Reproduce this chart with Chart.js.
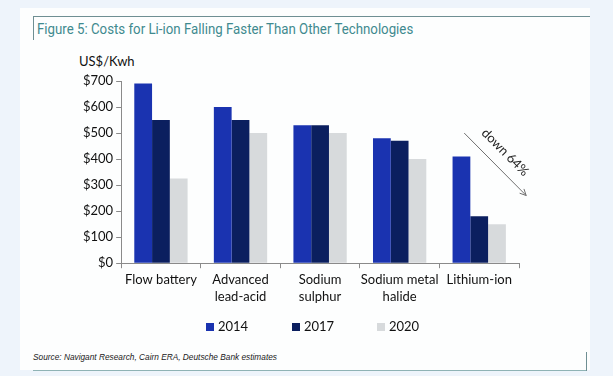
<!DOCTYPE html>
<html>
<head>
<meta charset="utf-8">
<script src="https://cdn.jsdelivr.net/npm/chart.js@4"></script>
<style>
  html, body { margin: 0; padding: 0; }
  body { width: 613px; height: 376px; background: #eef4fb; position: relative; overflow: hidden; }
  #panel { position: absolute; left: 20px; top: 8px; width: 570px; height: 362px; background: #fdfefe; }
  #frameTop { position: absolute; left: 33px; top: 16px; width: 557px; height: 1px; background: #6f8f93; }
  #frameLeft { position: absolute; left: 33px; top: 16px; width: 1px; height: 24px; background: #6f8f93; }
  #frameBottom { position: absolute; left: 33px; top: 370px; width: 554px; height: 1px; background: #8fb3b5; }
  #frameRight { position: absolute; left: 586px; top: 352px; width: 1px; height: 19px; background: #6f8f93; }
  #title { position: absolute; left: 37px; top: 21px; font: 14.5px Roboto, sans-serif; color: #3f8a8f; white-space: nowrap; transform-origin: 0 0; }
  #unit { position: absolute; left: 79px; top: 53px; font: 13px Lato, sans-serif; color: #111; }
  #source { position: absolute; left: 33px; top: 352px; font: italic 8.3px "Liberation Sans", Arial, sans-serif; color: #222; white-space: nowrap; }
  #wrap { position: absolute; left: 0; top: 0; width: 613px; height: 376px; }
  #legend { position: absolute; top: 318px; left: 0; font: 13px Lato, sans-serif; color: #111; }
  #legend span.item { position: absolute; white-space: nowrap; }
  #legend span.box { display: inline-block; width: 8px; height: 8px; margin-right: 4px; vertical-align: 0px; }
</style>
</head>
<body>
<div id="panel"></div>
<div id="frameTop"></div>
<div id="frameLeft"></div>
<div id="frameBottom"></div>
<div id="frameRight"></div>
<div id="title">Figure 5: Costs for Li-ion Falling Faster Than Other Technologies</div>
<div id="unit">US$/Kwh</div>
<div id="source">Source: Navigant Research, Cairn ERA, Deutsche Bank estimates</div>
<div id="wrap"><canvas id="costChart"></canvas></div>
<div id="legend"></div>
<script>
const categories = [['Flow battery'], ['Advanced', 'lead-acid'], ['Sodium', 'sulphur'], ['Sodium metal', 'halide'], ['Lithium-ion']];
const years = ['2014', '2017', '2020'];
const cost2014 = [690, 600, 530, 480, 410];
const cost2017 = [550, 550, 530, 470, 180];
const cost2020 = [325, 500, 500, 400, 150];
const yTicks = [0, 100, 200, 300, 400, 500, 600, 700];
const colors = ['#1a33b0', '#0b1f5f', '#d7dadc'];

// squeeze the title to the width it has in the original
const title = document.getElementById('title');
title.style.transform = 'scaleX(' + (376 / title.offsetWidth) + ')';

// arrow "down 64%" over the Li-ion group, anchored on the scales
const arrowNote = {
  id: 'arrowNote',
  afterDatasetsDraw(chart) {
    const { ctx, scales: { x, y } } = chart;
    const cx = x.getPixelForValue(4);
    const x1 = cx - 15, y1 = y.getPixelForValue(500);
    const x2 = cx + 47, y2 = y.getPixelForValue(260);
    ctx.save();
    ctx.strokeStyle = '#707070';
    ctx.lineWidth = 1;
    ctx.beginPath();
    ctx.moveTo(x1, y1);
    ctx.lineTo(x2, y2);
    ctx.stroke();
    const a = Math.atan2(y2 - y1, x2 - x1);
    ctx.beginPath();
    ctx.moveTo(x2 - 7 * Math.cos(a - 0.45), y2 - 7 * Math.sin(a - 0.45));
    ctx.lineTo(x2, y2);
    ctx.lineTo(x2 - 7 * Math.cos(a + 0.45), y2 - 7 * Math.sin(a + 0.45));
    ctx.stroke();
    ctx.translate((x1 + x2) / 2 + 10, (y1 + y2) / 2 - 12);
    ctx.rotate(a);
    ctx.fillStyle = '#222';
    ctx.font = '13px Lato, sans-serif';
    ctx.textAlign = 'center';
    ctx.textBaseline = 'middle';
    ctx.fillText('down 64%', 0, 0);
    ctx.restore();
  }
};

new Chart(document.getElementById('costChart'), {
  type: 'bar',
  data: {
    labels: categories,
    datasets: [
      { label: years[0], data: cost2014, backgroundColor: colors[0] },
      { label: years[1], data: cost2017, backgroundColor: colors[1] },
      { label: years[2], data: cost2020, backgroundColor: colors[2] }
    ]
  },
  options: {
    responsive: true,
    maintainAspectRatio: false,
    animation: false,
    datasets: { bar: { categoryPercentage: 0.67, barPercentage: 1.0 } },
    layout: { padding: { left: 80, right: 94, top: 81, bottom: 68 } },
    plugins: {
      legend: { display: false },
      tooltip: { enabled: false }
    },
    scales: {
      x: {
        grid: { drawOnChartArea: false, tickLength: 5, color: '#8a8a8a' },
        border: { color: '#8a8a8a' },
        ticks: {
          color: '#111',
          font: { size: 13, family: 'Lato', lineHeight: 1.3 },
          maxRotation: 0,
          autoSkip: false,
          padding: 3
        }
      },
      y: {
        min: 0,
        max: 700,
        afterBuildTicks(axis) { axis.ticks = yTicks.map(v => ({ value: v })); },
        grid: { drawOnChartArea: false, tickLength: 5, color: '#8a8a8a' },
        border: { color: '#8a8a8a' },
        ticks: {
          color: '#111',
          font: { size: 13, family: 'Lato' },
          padding: 3,
          callback: v => '$' + v
        }
      }
    }
  },
  plugins: [arrowNote]
});

// legend row below the axis
const legend = document.getElementById('legend');
const legendX = [206, 292, 377];
years.forEach((yr, i) => {
  const item = document.createElement('span');
  item.className = 'item';
  item.style.left = legendX[i] + 'px';
  item.innerHTML = '<span class="box" style="background:' + colors[i] + '"></span>' + yr;
  legend.appendChild(item);
});
</script>
</body>
</html>
